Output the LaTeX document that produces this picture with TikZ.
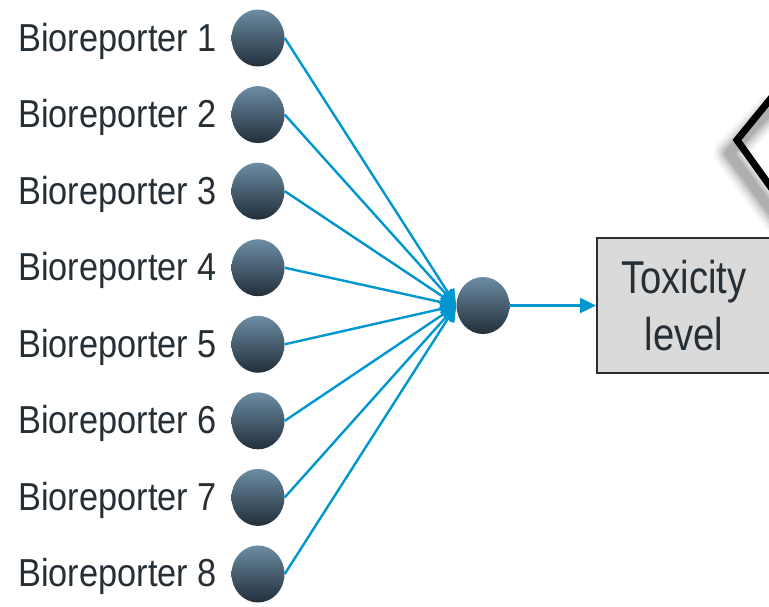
\documentclass[tikz,border=0pt]{standalone}
\usepackage{fontspec}
\setmainfont{Liberation Sans}
\newfontfamily\labfont[FakeStretch=0.88]{Liberation Sans}
\newfontfamily\boxfont[FakeStretch=0.83]{Liberation Sans}
\usetikzlibrary{arrows.meta,shapes.geometric}
\definecolor{txt}{RGB}{38,46,54}
\definecolor{ctop}{RGB}{108,141,164}
\definecolor{cbot}{RGB}{34,46,58}
\definecolor{link}{RGB}{0,150,208}
\definecolor{boxfill}{RGB}{218,218,218}
\definecolor{boxline}{RGB}{40,46,52}
\tikzset{
  neuron/.style={ellipse, minimum width=53pt, minimum height=57pt, inner sep=0pt,
    top color=ctop, bottom color=cbot, draw=none},
  lab/.style={anchor=base east, inner sep=0pt, text=txt, font=\labfont\fontsize{39}{40}\selectfont},
  wire/.style={draw=link, line width=2.4pt, -{Triangle[length=16pt,width=15pt]}},
  outbox/.style={draw=boxline, line width=2pt, fill=boxfill, minimum width=174pt, minimum height=135pt,
    inner sep=0pt, text=txt, align=center, font=\boxfont\fontsize{46}{56.7}\selectfont}
}
\begin{document}
\begin{tikzpicture}[x=1pt,y=-1pt]
\useasboundingbox (0,0) rectangle (769,606);
\begin{scope}
\clip (0,0) rectangle (769,606);
% shadow of the partial diamond
\foreach \w/\o in {30/0.04,25/0.05,20/0.07,15/0.09,10/0.11}{
  \draw[black, opacity=\o, line width=\w pt, line join=round]
    (774,106) -- (729,153) -- (783,226);
}
\draw[black, line width=7pt, line join=miter] (772,97) -- (737,140) -- (790,214);
% output box
\node[outbox] (box) at (684,305.5) {Toxicity\\level};
\end{scope}
% neurons
\node[neuron] (out) at (483,305.5) {};
\foreach \i in {1,...,8}{
  \pgfmathsetmacro{\cy}{38+76.57*(\i-1)}
  \node[neuron] (n\i) at (258,\cy) {};
  \node[lab] (l\i) at (217,\cy+13) {Bioreporter \i};
}
\foreach \i in {1,...,8}{
  \draw[wire] (n\i.east) -- (out.west);
}
\draw[wire] (out.east) -- (box.west);
\end{tikzpicture}
\end{document}
